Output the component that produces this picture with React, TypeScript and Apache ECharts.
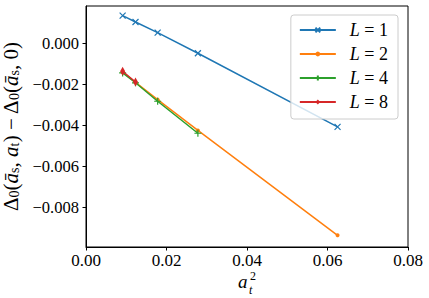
import React, { useEffect, useRef } from "react";
import * as echarts from "echarts";

const xVals = [0.0091, 0.0123, 0.0178, 0.0278, 0.0625];
const yL1 = [0.00134, 0.00103, 0.00051, -0.00049, -0.00408];
const xL2 = [0.0091, 0.0123, 0.0178, 0.0278, 0.0625];
const yL2 = [-0.00142, -0.00191, -0.00275, -0.00425, -0.00936];
const xL4 = [0.0091, 0.0123, 0.0178, 0.0278];
const yL4 = [-0.00145, -0.00193, -0.00283, -0.00439];
const xL8 = [0.0091, 0.0123];
const yL8 = [-0.00137, -0.00189];
const seriesNames = ["L = 1", "L = 2", "L = 4", "L = 8"];
const colors = ["#1f77b4", "#ff7f0e", "#2ca02c", "#d62728"];
const yTicks = [-0.008, -0.006, -0.004, -0.002, 0];
const xTicks = [0, 0.02, 0.04, 0.06, 0.08];

const FONT = "Liberation Serif";

const zip = (xs: number[], ys: number[]) => xs.map((x, i) => [x, ys[i]]);

export default function App() {
  const ref = useRef<HTMLDivElement>(null);
  useEffect(() => {
    const chart = echarts.init(ref.current!, undefined, { renderer: "svg" });
    const sub = { fontFamily: FONT, fontSize: 14, lineHeight: 12, verticalAlign: "bottom", color: "#000" };
    const norm = { fontFamily: FONT, fontSize: 21, lineHeight: 22, color: "#000" };
    const ital = { ...norm, fontStyle: "italic" };
    const xSymbol = "path://M0,0L10,10M10,0L0,10";
    const plusSymbol = "path://M5,0L5,10M0,5L10,5";
    const datasets = [zip(xVals, yL1), zip(xL2, yL2), zip(xL4, yL4), zip(xL8, yL8)];
    const symbols = [xSymbol, "circle", plusSymbol, "diamond"];
    const sizes: any[] = [6, 4, 7, [5, 9]];
    chart.setOption({
      animation: false,
      backgroundColor: "#fff",
      grid: {
        left: 86,
        right: 21,
        top: 6,
        bottom: 51,
        outerBoundsMode: "none",
        containLabel: false,
        show: true,
        borderColor: "#000",
        borderWidth: 1,
        backgroundColor: "transparent",
      },
      legend: {
        data: seriesNames,
        orient: "vertical",
        right: 31,
        top: 15,
        itemWidth: 36,
        itemHeight: 6,
        itemGap: 6,
        padding: [6, 10, 8, 8],
        backgroundColor: "rgba(255,255,255,0.8)",
        borderColor: "#cccccc",
        borderWidth: 1,
        borderRadius: 3,
        formatter: (name: string) => "{i|L}{n|" + name.slice(1) + "}",
        textStyle: {
          padding: [0, 0, 0, 9],
          rich: {
            i: { fontFamily: FONT, fontSize: 18, lineHeight: 20, fontStyle: "italic", color: "#000" },
            n: { fontFamily: FONT, fontSize: 18, lineHeight: 20, color: "#000" },
          },
        },
      },
      xAxis: {
        type: "value",
        min: 0,
        max: 0.08,
        interval: 0.02,
        splitLine: { show: false },
        axisLine: { show: true, onZero: false, lineStyle: { color: "#000", width: 1 } },
        axisTick: { show: true, length: 3.5, lineStyle: { color: "#000" }, customValues: xTicks },
        axisLabel: {
          fontFamily: FONT,
          fontSize: 17,
          color: "#000",
          margin: 5,
          customValues: xTicks,
          formatter: (v: number) => v.toFixed(2),
        },
      },
      yAxis: {
        type: "value",
        min: -0.00993,
        max: 0.00181,
        splitLine: { show: false },
        axisLine: { show: true, onZero: false, lineStyle: { color: "#000", width: 1 } },
        axisTick: { show: true, length: 3.5, lineStyle: { color: "#000" }, customValues: yTicks },
        axisLabel: {
          fontFamily: FONT,
          fontSize: 16.5,
          color: "#000",
          margin: 7,
          customValues: yTicks,
          formatter: (v: number) => (Math.abs(v) < 1e-12 ? "0.000" : v.toFixed(3).replace("-", "\u2212")),
        },
        name:
          "{n|Δ}{s|0}{n|(}{i|ā}{s|s}{n|, }{i|a}{s|t}{n|) − Δ}{s|0}{n|(}{i|ā}{s|s}{n|, 0)}",
        nameLocation: "middle",
        nameRotate: 90,
        nameGap: 58,
        nameTextStyle: { rich: { n: norm, i: ital, s: sub } },
      },
      graphic: [
        { type: "text", left: 238, top: 272, style: { text: "a", font: `italic 19px ${FONT}`, fill: "#000" } },
        { type: "text", left: 250, top: 270, style: { text: "2", font: `12px ${FONT}`, fill: "#000" } },
        { type: "text", left: 249, top: 284, style: { text: "t", font: `italic 12px ${FONT}`, fill: "#000" } },
      ],
      series: datasets.map((d, i) => ({
        name: seriesNames[i],
        type: "line",
        data: d,
        symbol: symbols[i],
        symbolSize: sizes[i],
        showSymbol: true,
        lineStyle: { color: colors[i], width: 1.5 },
        itemStyle: {
          color: colors[i],
          borderColor: colors[i],
          borderWidth: i === 0 || i === 2 ? 1.2 : 0,
        },
        z: 2 + i,
      })),
    });
    return () => chart.dispose();
  }, []);
  return <div ref={ref} style={{ width: 429, height: 298, position: "absolute", left: 0, top: 0 }} />;
}
